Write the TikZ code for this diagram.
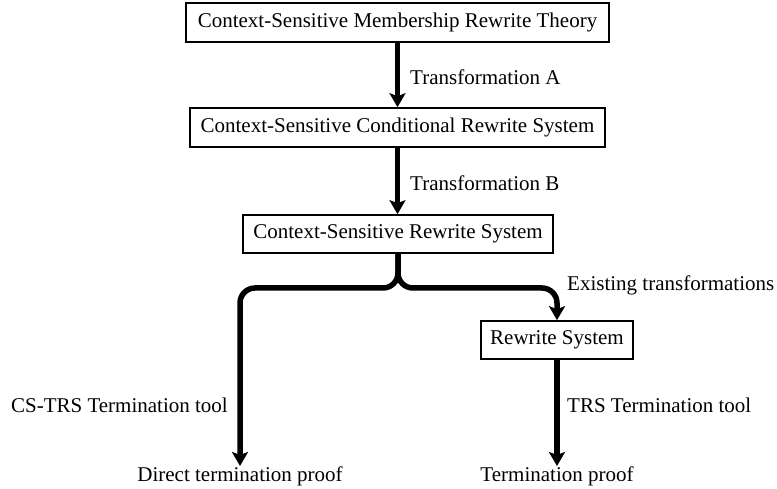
\documentclass[tikz,border=0pt]{standalone}
\usepackage{fontspec}
\setmainfont{Liberation Serif}
\usetikzlibrary{arrows.meta}
\begin{document}
\begin{tikzpicture}[x=1pt,y=-1pt,
  every node/.style={font=\fontsize{21}{25}\selectfont},
  box/.style={draw, line width=1.6pt, inner sep=0pt, align=center},
  lbl/.style={inner sep=0pt},
  conn/.style={line width=5.5pt, -{Stealth[length=14pt,width=16pt,inset=3pt]}}
]
\useasboundingbox (0,0) rectangle (777,489);
\node[box, minimum width=423pt, minimum height=39pt] (b1) at (397.5,22.5) {Context-Sensitive Membership Rewrite Theory};
\node[box, minimum width=415pt, minimum height=39pt] (b2) at (397.5,127.5) {Context-Sensitive Conditional Rewrite System};
\node[box, minimum width=310pt, minimum height=38pt] (b3) at (398,234) {Context-Sensitive Rewrite System};
\node[box, minimum width=152pt, minimum height=38pt] (b4) at (557,340) {Rewrite System};
\node[lbl, anchor=base] (dtp) at (240,481) {Direct termination proof};
\node[lbl, anchor=base] (tp) at (557,481) {Termination proof};
\coordinate (split) at (398,288);

\draw[conn] (b1.south) -- (b1.south |- b2.north);
\draw[conn] (b2.south) -- (b2.south |- b3.north);
\draw[conn, rounded corners=15pt] (b3.south) -- (split) -| (dtp.north);
\draw[conn, rounded corners=15pt] (b3.south) -- (split) -| (b4.north);
\draw[conn] (b4.south) -- (tp.north);

\node[lbl, anchor=west] (la) at (410,77) {Transformation A};
\node[lbl, anchor=west] (lb) at (410,183) {Transformation B};
\node[lbl, anchor=west] (le) at (567,285) {Existing transformations};
\node[lbl, anchor=east] (lc) at (228,405) {CS-TRS Termination tool};
\node[lbl, anchor=west] (lt) at (567,405) {TRS Termination tool};
\end{tikzpicture}
\end{document}
